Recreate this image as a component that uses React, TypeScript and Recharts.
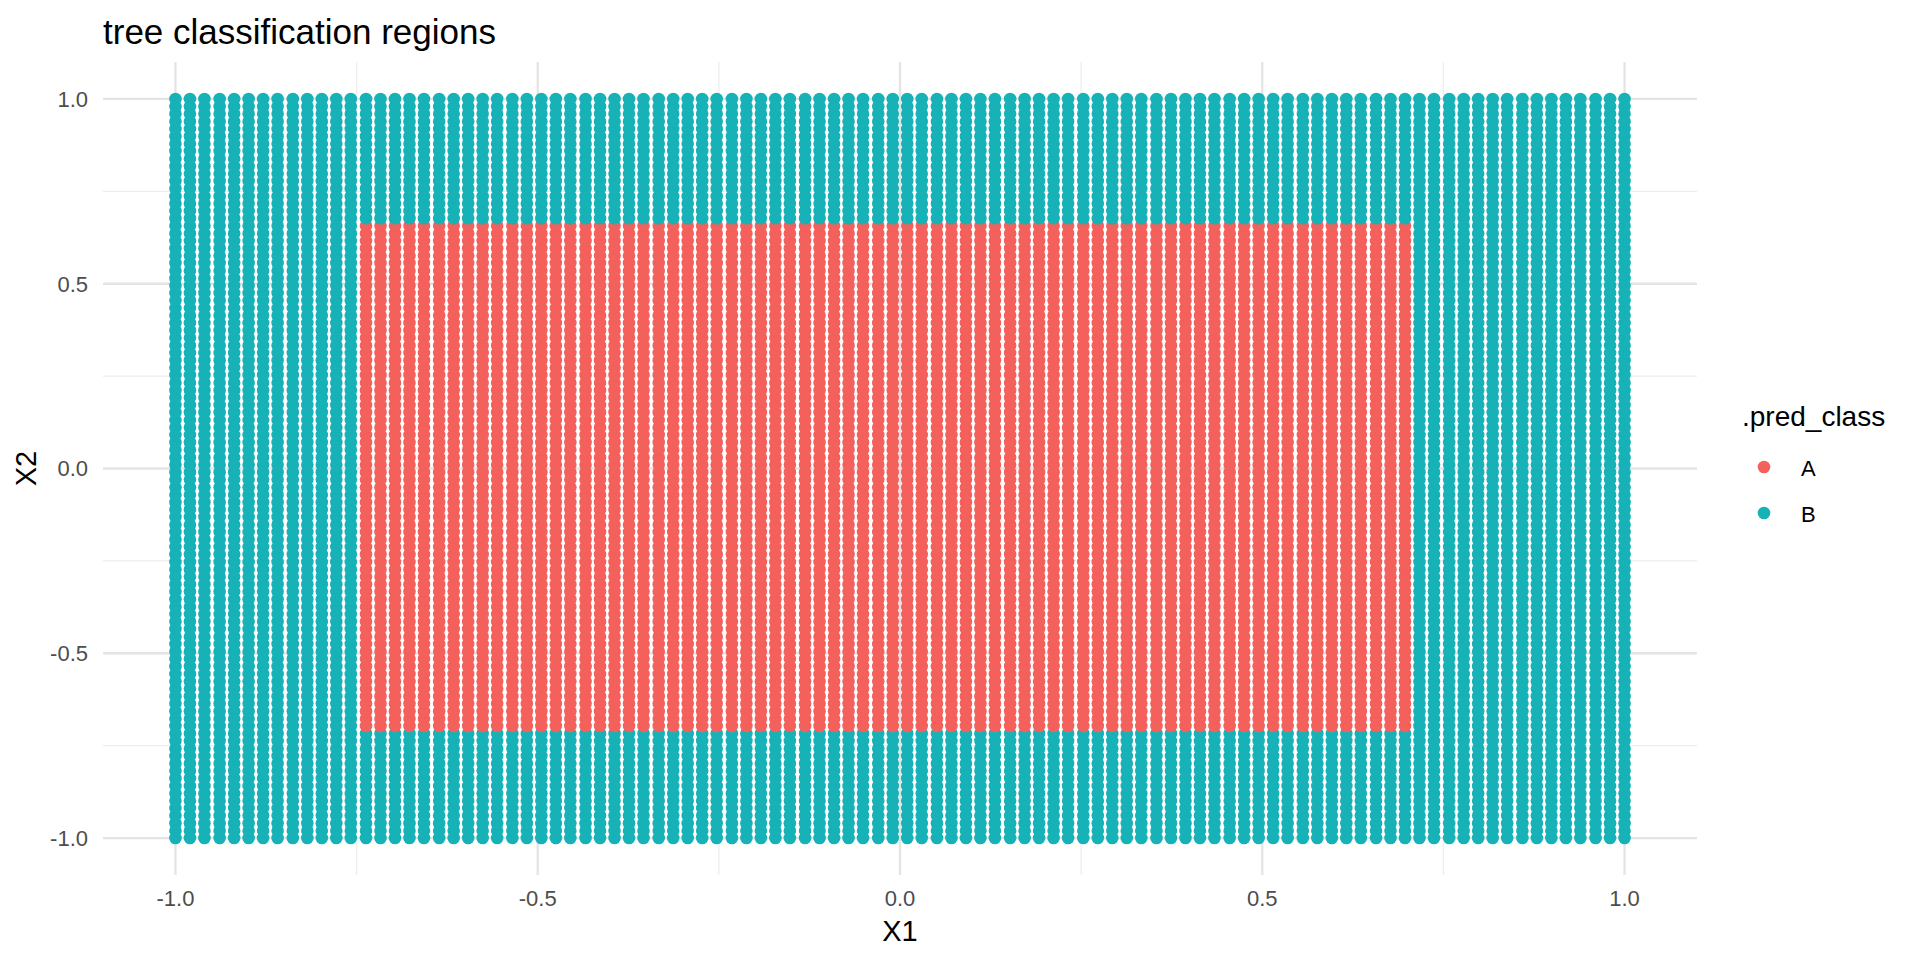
import React from "react";
import { ScatterChart, Scatter, XAxis, YAxis, ReferenceLine, Legend } from "recharts";

// grid points used for prediction (same 100 steps on X1 and X2)
const gridSteps = [
  -1.0, -0.98, -0.96, -0.939, -0.919, -0.899, -0.879, -0.859, -0.838, -0.818,
  -0.798, -0.778, -0.758, -0.737, -0.717, -0.697, -0.677, -0.657, -0.636, -0.616,
  -0.596, -0.576, -0.556, -0.535, -0.515, -0.495, -0.475, -0.455, -0.434, -0.414,
  -0.394, -0.374, -0.354, -0.333, -0.313, -0.293, -0.273, -0.253, -0.232, -0.212,
  -0.192, -0.172, -0.152, -0.131, -0.111, -0.091, -0.071, -0.051, -0.03, -0.01,
  0.01, 0.03, 0.051, 0.071, 0.091, 0.111, 0.131, 0.152, 0.172, 0.192,
  0.212, 0.232, 0.253, 0.273, 0.293, 0.313, 0.333, 0.354, 0.374, 0.394,
  0.414, 0.434, 0.455, 0.475, 0.495, 0.515, 0.535, 0.556, 0.576, 0.596,
  0.616, 0.636, 0.657, 0.677, 0.697, 0.717, 0.737, 0.758, 0.778, 0.798,
  0.818, 0.838, 0.859, 0.879, 0.899, 0.919, 0.939, 0.96, 0.98, 1.0,
];

// tree splits: class A inside the box, B outside
const splitX1 = [-0.74, 0.71];
const splitX2 = [-0.7, 0.66];

const classes = ["A", "B"];
const classColors = ["#F4605B", "#17B2B7"];

const majorBreaks = [-1, -0.5, 0, 0.5, 1];
const minorBreaks = [-0.75, -0.25, 0.25, 0.75];

const predictions: { x1: number; x2: number; cls: string }[] = [];
gridSteps.forEach((x2) => {
  gridSteps.forEach((x1) => {
    const inA = x1 >= splitX1[0] && x1 <= splitX1[1] && x2 >= splitX2[0] && x2 <= splitX2[1];
    predictions.push({ x1, x2, cls: inA ? "A" : "B" });
  });
});

const FONT = "'Liberation Sans', Arial, Helvetica, sans-serif";
const tickStyle = { fill: "#4D4D4D", fontSize: 22, fontFamily: FONT };

const colorOf = (cls: string) => classColors[classes.indexOf(cls)];

const Dot = (props: any) => {
  const { cx, cy, payload } = props;
  return <circle cx={cx} cy={cy} r={6.3} fill={colorOf(payload.cls)} />;
};

const LegendBox = () => (
  <svg width={180} height={150} style={{ fontFamily: FONT }}>
    <text x={2} y={36} fontSize={28} fill="#000">.pred_class</text>
    {classes.map((c, i) => (
      <g key={c}>
        <circle cx={24} cy={77 + i * 46} r={6.3} fill={classColors[i]} />
        <text x={61} y={86 + i * 46} fontSize={22} fill="#000">{c}</text>
      </g>
    ))}
  </svg>
);

export default function App() {
  return (
    <div style={{ position: "absolute", left: 0, top: 0, width: 1920, height: 960, background: "#fff" }}>
      <ScatterChart
        width={1920}
        height={960}
        margin={{ top: 62, right: 223, bottom: 0, left: 0 }}
        style={{ fontFamily: FONT }}
      >
        <text x={103} y={44} fontSize={35} fill="#000" fontFamily={FONT}>
          tree classification regions
        </text>
        {minorBreaks.map((v) => (
          <ReferenceLine key={"mx" + v} x={v} stroke="#EDEDED" strokeWidth={1.3} />
        ))}
        {minorBreaks.map((v) => (
          <ReferenceLine key={"my" + v} y={v} stroke="#EDEDED" strokeWidth={1.3} />
        ))}
        {majorBreaks.map((v) => (
          <ReferenceLine key={"Mx" + v} x={v} stroke="#E4E4E4" strokeWidth={2.3} />
        ))}
        {majorBreaks.map((v) => (
          <ReferenceLine key={"My" + v} y={v} stroke="#E4E4E4" strokeWidth={2.3} />
        ))}
        <XAxis
          type="number"
          dataKey="x1"
          domain={[-1.1, 1.1]}
          ticks={majorBreaks}
          interval={0}
          tickFormatter={(v: number) => v.toFixed(1)}
          axisLine={false}
          tickLine={false}
          tickSize={0}
          tickMargin={15}
          height={85}
          tick={tickStyle}
          label={{
            content: (p: any) => (
              <text x={p.viewBox.x + p.viewBox.width / 2} y={941} textAnchor="middle" fontSize={29} fill="#000" fontFamily={FONT}>
                X1
              </text>
            ),
          }}
        />
        <YAxis
          type="number"
          dataKey="x2"
          domain={[-1.1, 1.1]}
          ticks={majorBreaks}
          interval={0}
          tickFormatter={(v: number) => v.toFixed(1)}
          axisLine={false}
          tickLine={false}
          tickSize={0}
          tickMargin={15}
          width={103}
          tick={tickStyle}
          label={{
            content: (p: any) => {
              const cy = p.viewBox.y + p.viewBox.height / 2;
              return (
                <text x={36} y={cy} transform={`rotate(-90, 36, ${cy})`} textAnchor="middle" fontSize={29} fill="#000" fontFamily={FONT}>
                  X2
                </text>
              );
            },
          }}
        />
        <Scatter data={predictions} shape={Dot} isAnimationActive={false} name=".pred_class" />
        <Legend
          layout="horizontal"
          verticalAlign="middle"
          align="center"
          content={() => <LegendBox />}
          wrapperStyle={{ position: "absolute", left: 1740, top: 390, width: 180, height: 150 }}
        />
      </ScatterChart>
    </div>
  );
}
